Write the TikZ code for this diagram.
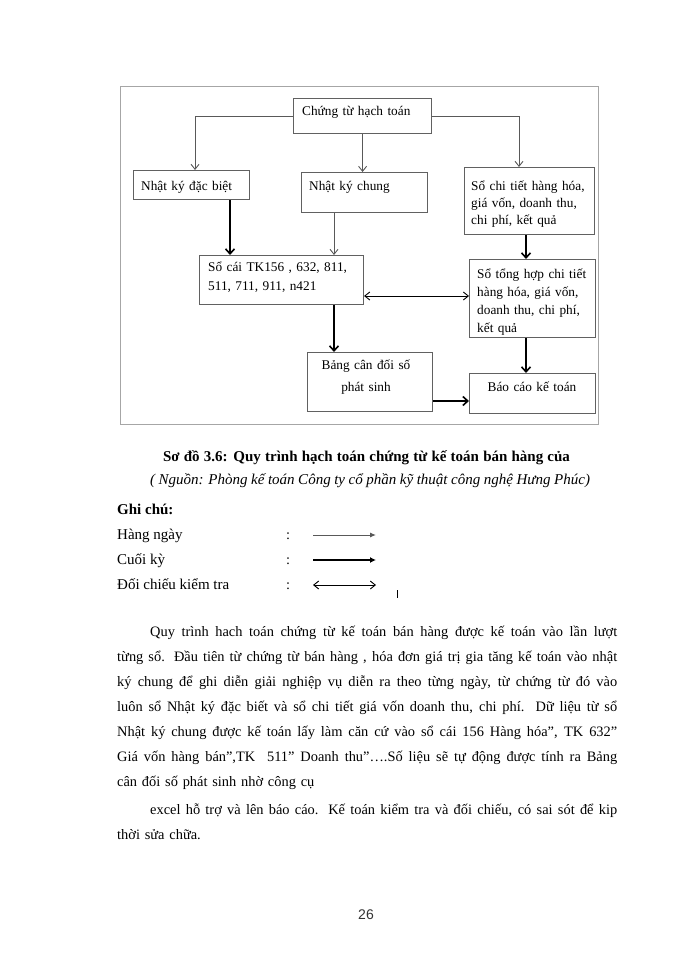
\documentclass[tikz,border=0pt]{standalone}
\usepackage{fontspec}
\setmainfont{Liberation Serif}
\newfontfamily\pgnumfont{Liberation Sans}
\usetikzlibrary{arrows.meta}
\newcommand{\fulline}[1]{\makebox[500pt][s]{\spaceskip=0pt\xspaceskip=0pt #1}}
\tikzset{
  boxst/.style={draw=black!62, line width=1.1pt, fill=white, inner sep=0pt, anchor=north west},
  thinarr/.style={draw=black!65, line width=0.9pt, -{Straight Barb[length=5pt,width=8pt]}},
  thickarr/.style={draw=black, line width=2pt, -{Straight Barb[length=5pt,width=9pt,line width=1.6pt]}},
  dblarr/.style={draw=black, line width=0.9pt, {Straight Barb[length=5pt,width=8pt]}-{Straight Barb[length=5pt,width=8pt]}},
  boxtxt/.style={anchor=base west, inner sep=0pt, font=\fontsize{13.3}{17.6}\selectfont, text width=130pt, align=left},
  bodytxt/.style={anchor=base west, inner sep=0pt, font=\fontsize{14.4}{25}\selectfont},
}
\begin{document}
\begin{tikzpicture}[x=1pt,y=-1pt]
\useasboundingbox (0,0) rectangle (700,960);
% outer frame
\draw[draw=black!35, line width=1pt] (120,87) rectangle (598,424);
% boxes
\node[boxst, minimum width=138pt, minimum height=35pt] (ct) at (293,98) {};
\node[boxst, minimum width=116pt, minimum height=29pt] (nkdb) at (133,170) {};
\node[boxst, minimum width=126pt, minimum height=40pt] (nkc) at (301,172) {};
\node[boxst, minimum width=130pt, minimum height=67pt] (sct) at (464,167) {};
\node[boxst, minimum width=126pt, minimum height=78pt] (sth) at (469,259) {};
\node[boxst, minimum width=164pt, minimum height=49pt] (sc) at (199,255) {};
\node[boxst, minimum width=125pt, minimum height=59pt] (bcd) at (307,352) {};
\node[boxst, minimum width=126pt, minimum height=40pt] (bc) at (469,373) {};
% box texts
\node[boxtxt] (tct) at (302,115.5) {Chứng từ hạch toán};
\node[boxtxt] (tnkdb) at (141,190) {Nhật ký đặc biệt};
\node[boxtxt] (tnkc) at (309,190) {Nhật ký chung};
\node[boxtxt, font=\fontsize{13.3}{16.8}\selectfont] (tsct) at (471,190.5) {Sổ chi tiết hàng hóa,\\giá vốn, doanh thu,\\chi phí, kết quả};
\node[boxtxt, text width=160pt, font=\fontsize{13.3}{19}\selectfont] (tsc) at (208,271.5) {Sổ cái TK156 , 632, 811,\\511, 711, 911, n421};
\node[boxtxt, font=\fontsize{13.3}{18}\selectfont] (tsth) at (477,278) {Sổ tổng hợp chi tiết\\hàng hóa, giá vốn,\\doanh thu, chi phí,\\kết quả};
\node[boxtxt, anchor=base, text width=120pt, align=center, font=\fontsize{13.3}{22}\selectfont] (tbcd) at (366,369) {Bảng cân đối số\\phát sinh};
\node[boxtxt, anchor=base, text width=120pt, align=center] (tbc) at (532,391.5) {Báo cáo kế toán};
% helper coordinates
\coordinate (xa) at (195,0);
\coordinate (xb) at (519,0);
\coordinate (xc) at (230,0);
\coordinate (xd) at (334,0);
\coordinate (xe) at (526,0);
\coordinate (ya) at (0,296);
\coordinate (yb) at (0,401);
% connectors
\draw[thinarr] (ct.west) -| (xa |- nkdb.north);
\draw[thinarr] (ct.east) -| (xb |- sct.north);
\draw[thinarr] (ct.south) -- (ct.south |- nkc.north);
\draw[thickarr] (nkdb.south -| xc) -- (sc.north -| xc);
\draw[thinarr] (nkc.south -| xd) -- (sc.north -| xd);
\draw[thickarr] (sct.south -| xe) -- (sth.north -| xe);
\draw[dblarr] (sc.east |- ya) -- (sth.west |- ya);
\draw[thickarr] (sc.south -| xd) -- (bcd.north -| xd);
\draw[thickarr] (sth.south -| xe) -- (bc.north -| xe);
\draw[thickarr] (bcd.east |- yb) -- (bc.west |- yb);
% caption
\node[anchor=base, inner sep=0pt, font=\fontsize{15}{18}\selectfont\bfseries] (cap) at (366.5,461.5) {\makebox[407pt][s]{Sơ đồ 3.6: Quy trình hạch toán chứng từ kế toán bán hàng của}};
\node[anchor=base, inner sep=0pt, font=\fontsize{15}{18}\selectfont\itshape] (src) at (370,484) {\makebox[440pt][s]{( Nguồn: Phòng kế toán Công ty cổ phần kỹ thuật công nghệ Hưng Phúc)}};
% legend
\node[bodytxt, font=\fontsize{15}{18}\selectfont\bfseries] (gc) at (117,514) {Ghi chú:};
\node[bodytxt, font=\fontsize{15}{18}\selectfont] (l1) at (117,539) {Hàng ngày};
\node[bodytxt, font=\fontsize{15}{18}\selectfont] (l2) at (117,564) {Cuối kỳ};
\node[bodytxt, font=\fontsize{15}{18}\selectfont] (l3) at (117,589) {Đối chiếu kiểm tra};
\node[bodytxt] (c1) at (286,539) {:};
\node[bodytxt] (c2) at (286,564) {:};
\node[bodytxt] (c3) at (286,589) {:};
\coordinate (a1s) at (313,535); \coordinate (a1e) at (376,535);
\coordinate (a2s) at (313,560); \coordinate (a2e) at (376,560);
\coordinate (a3s) at (313,585); \coordinate (a3e) at (376,585);
\draw[draw=black!65, line width=1pt, -{Latex[length=6pt,width=5pt]}] (a1s) -- (a1e);
\draw[draw=black, line width=2pt, -{Latex[length=6pt,width=6pt]}] (a2s) -- (a2e);
\draw[dblarr] (a3s) -- (a3e);
\coordinate (cur1) at (397,590); \coordinate (cur2) at (397,598);
\draw[line width=0.8pt] (cur1) -- (cur2);
% paragraph
\node[bodytxt, text width=500pt, align=left] (para) at (117,636) {%
\fulline{\hspace*{33pt}Quy trình hach toán chứng từ kế toán bán hàng được kế toán vào lần lượt}\\
\fulline{từng sổ. Đầu tiên từ chứng từ bán hàng , hóa đơn giá trị gia tăng kế toán vào nhật}\\
\fulline{ký chung để ghi diễn giải nghiệp vụ diễn ra theo từng ngày, từ chứng từ đó vào}\\
\fulline{luôn sổ Nhật ký đặc biết và sổ chi tiết giá vốn doanh thu, chi phí. Dữ liệu từ sổ}\\
\fulline{Nhật ký chung được kế toán lấy làm căn cứ vào sổ cái 156 Hàng hóa”, TK 632”}\\
\fulline{Giá vốn hàng bán”,TK \ 511” Doanh thu”….Số liệu sẽ tự động được tính ra Bảng}\\
cân đối số phát sinh nhờ công cụ\\[3pt]
\fulline{\hspace*{33pt}excel hỗ trợ và lên báo cáo. Kế toán kiểm tra và đối chiếu, có sai sót để kip}\\
thời sửa chữa.};
% page number
\node[anchor=base, inner sep=0pt, font=\pgnumfont\fontsize{14}{16}\selectfont, text=black!80] (pg) at (366,919) {26};
\end{tikzpicture}
\end{document}
